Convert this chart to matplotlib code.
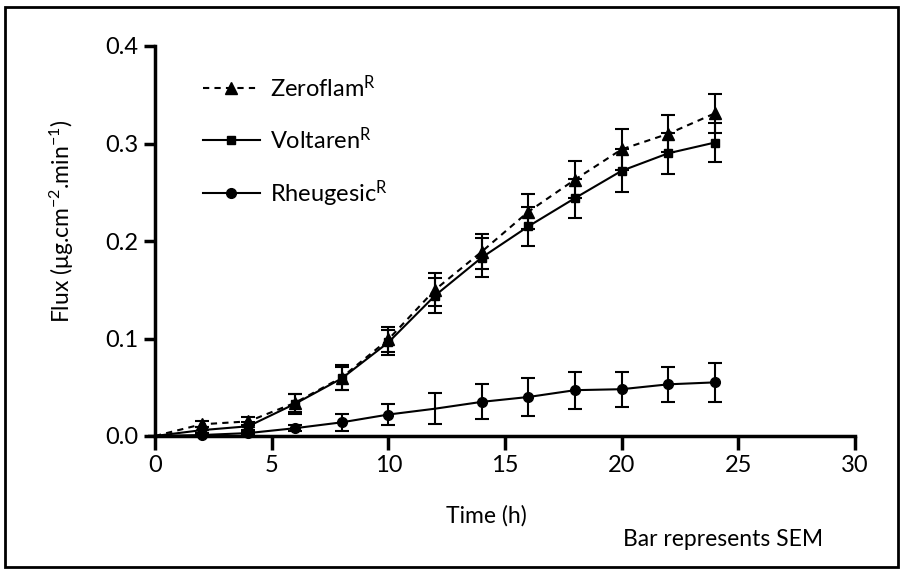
import matplotlib
matplotlib.use('Agg')
import matplotlib.pyplot as plt
from matplotlib.patches import Rectangle

plt.rcParams['font.family'] = ['Lato', 'DejaVu Sans']
plt.rcParams['mathtext.default'] = 'regular'

# Data
time_h = [0, 2, 4, 6, 8, 10, 12, 14, 16, 18, 20, 22, 24]

zeroflam = [0.0, 0.012, 0.015, 0.034, 0.060, 0.099, 0.150, 0.189, 0.230, 0.263, 0.294, 0.310, 0.331]
zeroflam_sem = [0.0, 0.003, 0.004, 0.009, 0.013, 0.013, 0.017, 0.018, 0.018, 0.019, 0.021, 0.019, 0.020]

voltaren = [0.0, 0.006, 0.010, 0.033, 0.059, 0.096, 0.144, 0.183, 0.215, 0.244, 0.272, 0.290, 0.301]
voltaren_sem = [0.0, 0.003, 0.004, 0.010, 0.012, 0.013, 0.018, 0.020, 0.020, 0.020, 0.022, 0.021, 0.020]

rheugesic = [0.0, 0.001, 0.003, 0.008, 0.014, 0.022, 0.028, 0.035, 0.040, 0.047, 0.048, 0.053, 0.055]
rheugesic_sem = [0.0, 0.001, 0.001, 0.003, 0.009, 0.011, 0.016, 0.018, 0.019, 0.019, 0.018, 0.018, 0.020]

labels = ['Zeroflam$^{R}$', 'Voltaren$^{R}$', 'Rheugesic$^{R}$']

fig = plt.figure(figsize=(9.02, 5.70), dpi=100)
ax = fig.add_axes([155 / 902, 1 - 436 / 570, 700 / 902, 390 / 570])

# error bars first, lines on top
for y, e in [(zeroflam, zeroflam_sem), (voltaren, voltaren_sem), (rheugesic, rheugesic_sem)]:
    ax.errorbar(time_h, y, yerr=e, fmt='none', ecolor='black', elinewidth=1.5,
                capsize=5, capthick=1.5, clip_on=False)

# no marker drawn at t = 0 in the original, and none at 12 h for Rheugesic
ax.plot(time_h, zeroflam, color='black', linestyle=(0, (3, 2.5)), linewidth=1.5,
        marker='^', markersize=8, label=labels[0], markevery=list(range(1, 13)))
ax.plot(time_h, voltaren, color='black', linestyle='-', linewidth=1.5,
        marker='s', markersize=6, label=labels[1], markevery=list(range(1, 13)))
ax.plot(time_h, rheugesic, color='black', linestyle='-', linewidth=1.5,
        marker='o', markersize=7, label=labels[2], clip_on=False,
        markevery=[1, 2, 3, 4, 5, 7, 8, 9, 10, 11, 12])

ax.set_xlim(0, 30)
ax.set_ylim(0, 0.4)
ax.set_xticks([0, 5, 10, 15, 20, 25, 30])
ax.set_yticks([0.0, 0.1, 0.2, 0.3, 0.4])
ax.set_yticklabels(['0.0', '0.1', '0.2', '0.3', '0.4'])

for side in ['top', 'right']:
    ax.spines[side].set_visible(False)
for side in ['left', 'bottom']:
    ax.spines[side].set_linewidth(2.5)
ax.tick_params(axis='both', direction='out', width=2.5, length=8, labelsize=17, pad=4)
ax.tick_params(axis='x', length=10)

ax.set_xlabel('Time (h)', fontsize=16.5, va='center')
ax.xaxis.set_label_coords(0.474, -0.205)
ax.set_ylabel('Flux (μg.cm$^{-2}$.min$^{-1}$)', fontsize=16.5, va='center')
ax.yaxis.set_label_coords(-0.133, 0.55)

leg = ax.legend(loc='upper left', bbox_to_anchor=(0.055, 0.952), frameon=False,
                fontsize=17, handlelength=2.4, handletextpad=0.45, labelspacing=1.08,
                borderaxespad=0)

fig.text(623 / 902, 1 - 540 / 570, 'Bar represents SEM', fontsize=16.5, va='center')

# outer frame
fig.patches.append(Rectangle((5 / 902, 3 / 570), 893 / 902, 560 / 570,
                             transform=fig.transFigure, fill=False,
                             edgecolor='black', linewidth=2))

fig.savefig('out.png', dpi=100)
